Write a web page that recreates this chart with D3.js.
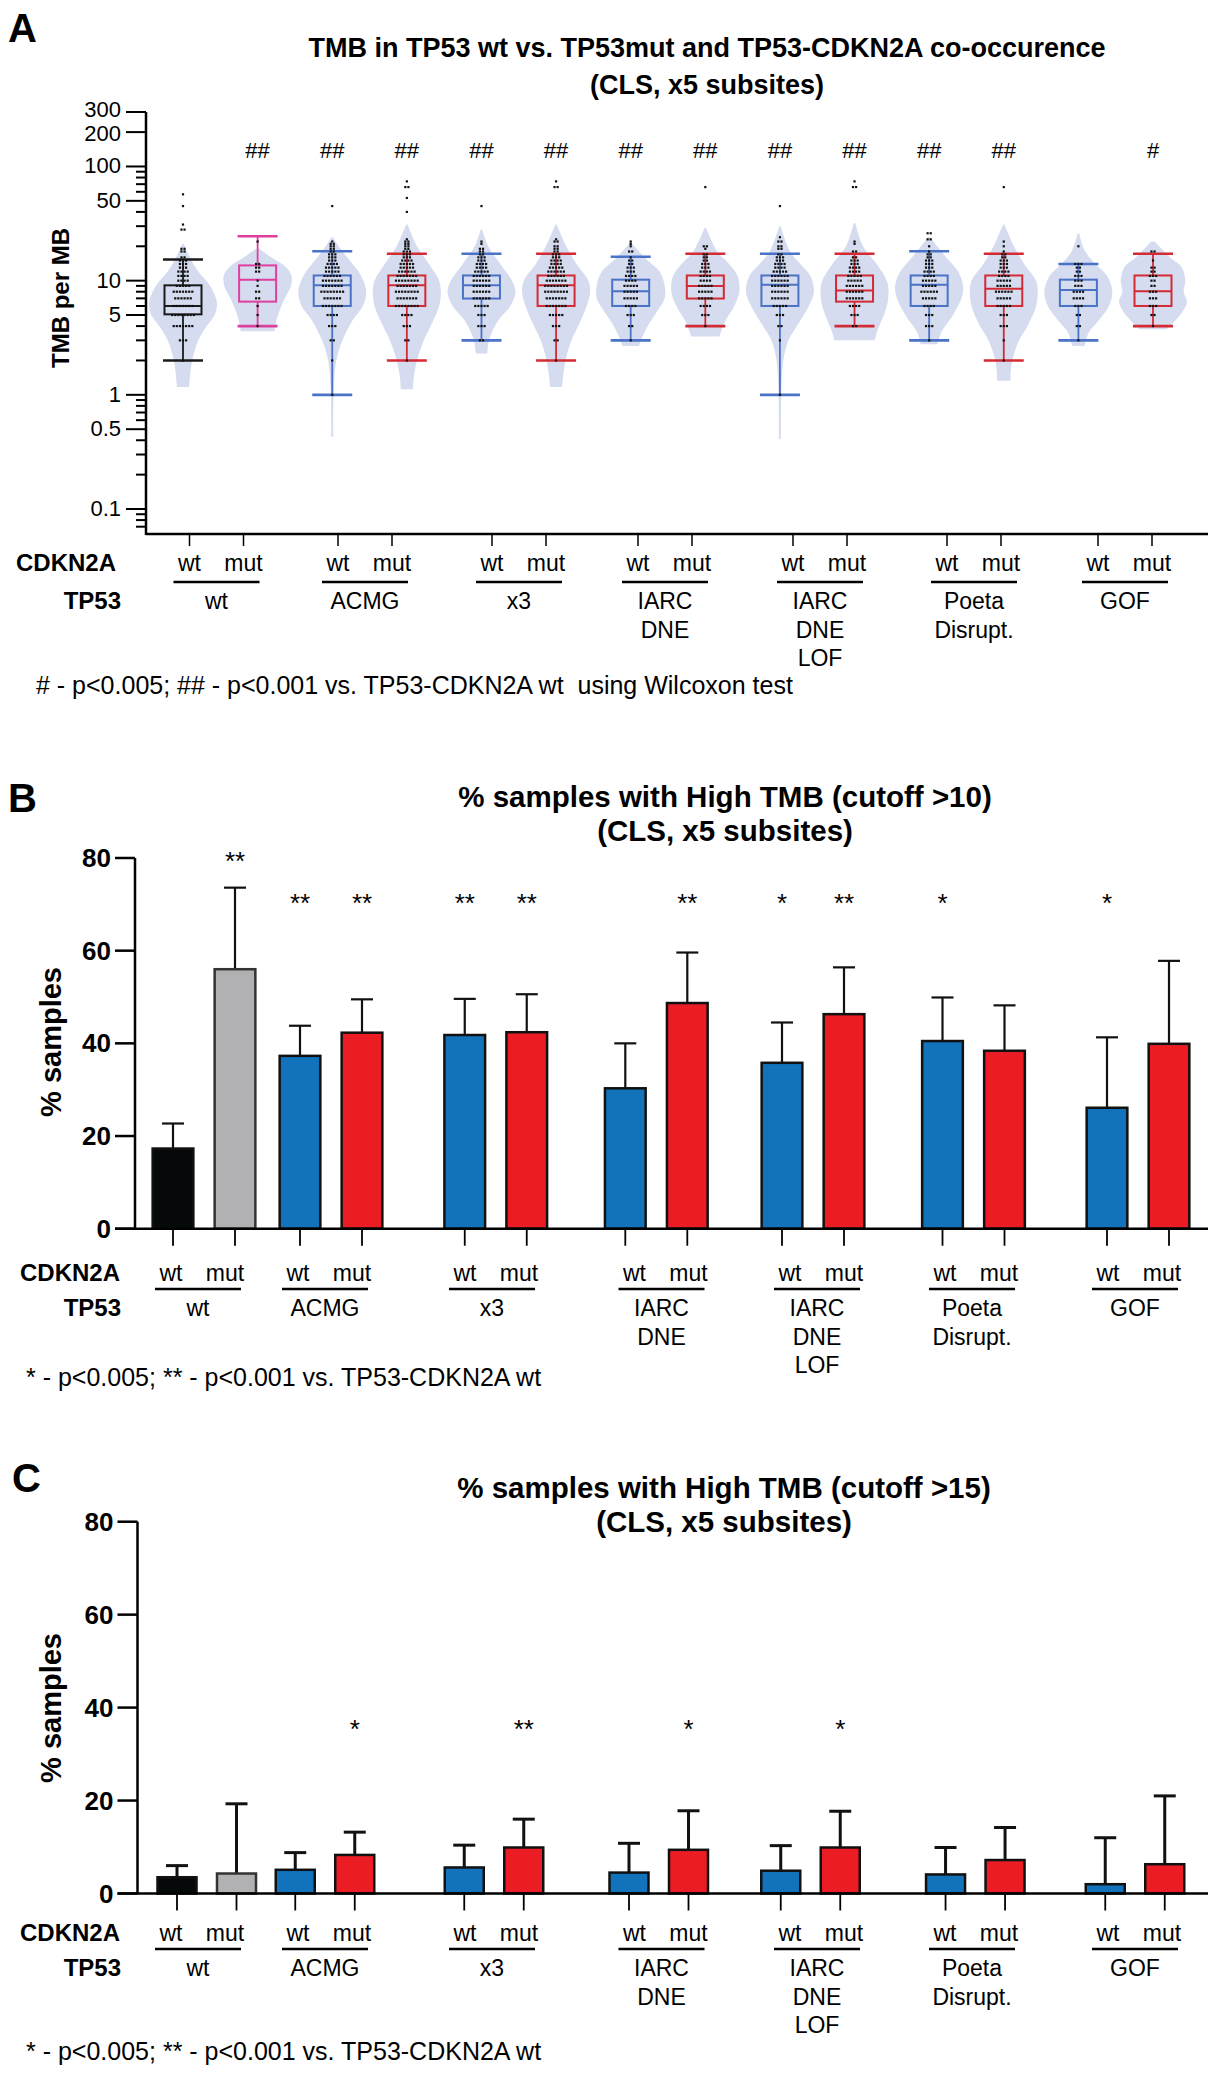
<!DOCTYPE html>
<html><head><meta charset="utf-8">
<script src="https://cdn.jsdelivr.net/npm/d3@7"></script>
<style>
body{margin:0;background:#fff}
svg{display:block}
text{font-family:"Liberation Sans",Arial,Helvetica,sans-serif;fill:#000;white-space:pre}
</style></head>
<body><svg id="chart"></svg>
<script>
// ================= DATA =================
const cdkn2aLabels = ["wt", "mut"];
const tp53Labels = [["wt"], ["ACMG"], ["x3"], ["IARC", "DNE"], ["IARC", "DNE", "LOF"], ["Poeta", "Disrupt."], ["GOF"]];

// Panel A: TMB per MB (log axis)
const tmbMajorTicks = [0.1, 0.5, 1, 5, 10, 50, 100, 200, 300];
const tmbMinorTicks = [0.07, 0.08, 0.09, 0.2, 0.3, 0.4, 0.6, 0.7, 0.8, 0.9, 2, 3, 4, 6, 7, 8, 9, 20, 30, 40, 60, 70, 80, 90];
const whiskerLow  = [2, 4, 1, 2, 3, 2, 3, 4, 1, 4, 3, 2, 3, 4];
const q1          = [5.07, 6.55, 6, 6, 6.97, 6, 6, 6.97, 6, 6.55, 6, 6, 6, 6];
const median      = [6, 10.2, 9.1, 9.1, 9.1, 9.1, 8.07, 8.97, 9.2, 8.2, 9.2, 8.5, 8.3, 8.07];
const q3          = [9.1, 13.6, 11.1, 11.1, 11.1, 11.1, 10.2, 11.1, 11.1, 11.1, 11.1, 11.1, 10.2, 11.1];
const whiskerHigh = [15.3, 24.5, 18.1, 17.2, 17.2, 17.2, 16.2, 17.2, 17.2, 17.2, 18.1, 17.2, 14, 17.2];
const sigA = ["", "##", "##", "##", "##", "##", "##", "##", "##", "##", "##", "##", "", "#"];
// violin outlines: [TMB value, relative half-width]
const violins = [
  [[21,0.02],[15,0.25],[12,0.45],[9,0.8],[7,0.97],[6,1],[5,0.93],[4,0.7],[3,0.45],[2,0.27],[1.4,0.2],[1.17,0.18]],
  [[19,0.05],[16,0.4],[13,0.85],[11,1],[9,0.98],[7,0.8],[5,0.6],[4,0.52],[3.6,0.5]],
  [[24,0.02],[18,0.3],[14,0.6],[11,0.85],[8,1],[6,0.9],[4.5,0.6],[3,0.3],[2,0.12],[1,0.04],[0.43,0.03]],
  [[31,0.02],[20,0.3],[14,0.65],[10,0.95],[8,1],[6,0.95],[4,0.7],[3,0.5],[2,0.3],[1.4,0.2],[1.12,0.18]],
  [[28,0.02],[20,0.2],[14,0.55],[10,0.9],[8,1],[6,0.85],[4.5,0.5],[3.2,0.25],[2.5,0.18],[2.3,0.17]],
  [[31,0.02],[20,0.3],[14,0.6],[10,0.95],[8,1],[6,0.9],[4,0.65],[3,0.45],[2,0.28],[1.4,0.2],[1.17,0.18]],
  [[21,0.04],[15,0.5],[12,0.85],[9,1],[7,1],[5.5,0.8],[4,0.5],[3,0.3],[2.68,0.25]],
  [[29,0.02],[18,0.35],[14,0.7],[11,0.95],[8,1],[6,0.85],[4.5,0.6],[3.5,0.45],[3.24,0.42]],
  [[30,0.02],[18,0.3],[14,0.6],[11,0.9],[8,1],[6,0.85],[4,0.5],[3,0.25],[2,0.1],[1,0.04],[0.41,0.03]],
  [[32,0.02],[20,0.25],[14,0.65],[10,0.95],[8,1],[6,0.95],[4.5,0.8],[3.5,0.65],[3,0.6]],
  [[24,0.03],[16,0.5],[12,0.85],[9,1],[7,0.95],[5,0.7],[3.5,0.35],[2.77,0.25]],
  [[31,0.02],[20,0.3],[14,0.6],[10,0.95],[8,1],[6,0.95],[4,0.7],[3,0.45],[2,0.25],[1.5,0.2],[1.33,0.2]],
  [[26,0.02],[18,0.2],[14,0.5],[11,0.85],[8,1],[6,0.9],[4.5,0.6],[3.5,0.3],[2.8,0.2],[2.68,0.18]],
  [[22,0.05],[16,0.5],[13,0.85],[10,0.95],[8,0.9],[6.5,1],[5,0.8],[4,0.5],[3.75,0.4]]
];
// individual samples: [TMB value, number of samples]
const samples = [
  [[2,1],[3,3],[4,7],[5,8],[6,7],[7,6],[8,7],[9,5],[10,4],[11,4],[12,4],[13,3],[14,3],[15,3],[16,2],[18,2],[19,2],[28,2],[31,1],[45,1],[57,1]],
  [[4,1],[5,1],[6,1],[7,2],[8,2],[9,1],[10,1],[12,2],[13,2],[14,2],[22,1]],
  [[1,1],[2,1],[3,2],[4,3],[5,4],[6,7],[7,6],[8,8],[9,7],[10,7],[11,6],[12,5],[13,5],[14,4],[15,3],[16,3],[17,3],[18,2],[19,2],[20,2],[21,2],[22,1],[45,1]],
  [[2,1],[3,2],[4,3],[5,4],[6,8],[7,7],[8,8],[9,7],[10,8],[11,7],[12,6],[13,5],[14,5],[15,4],[16,3],[17,3],[18,3],[19,2],[20,2],[21,2],[22,2],[23,1],[40,1],[53,1],[66,2],[74,1]],
  [[3,2],[4,3],[5,3],[6,5],[7,6],[8,6],[9,6],[10,6],[11,6],[12,5],[13,4],[14,4],[15,3],[16,3],[17,2],[18,2],[19,2],[21,1],[22,1],[45,1]],
  [[2,1],[3,2],[4,3],[5,5],[6,7],[7,7],[8,8],[9,8],[10,7],[11,6],[12,6],[13,5],[14,4],[15,4],[16,3],[17,3],[18,2],[19,2],[20,2],[22,2],[23,1],[66,2],[74,1]],
  [[3,1],[4,2],[5,3],[6,4],[7,5],[8,5],[9,5],[10,4],[11,4],[12,3],[13,3],[14,2],[15,2],[16,1],[18,2],[20,1],[21,1],[22,1]],
  [[4,1],[5,3],[6,4],[7,5],[8,5],[9,5],[10,4],[11,4],[12,4],[13,3],[14,3],[15,2],[16,2],[17,2],[19,1],[20,2],[66,1]],
  [[1,1],[3,1],[4,2],[5,3],[6,5],[7,6],[8,6],[9,6],[10,6],[11,6],[12,5],[13,4],[14,4],[15,3],[16,3],[17,2],[19,2],[20,2],[22,2],[24,1],[45,1]],
  [[4,2],[5,3],[6,4],[7,6],[8,6],[9,6],[10,5],[11,5],[12,4],[13,4],[14,3],[15,3],[16,2],[18,2],[21,1],[22,1],[66,2],[74,1]],
  [[3,1],[4,3],[5,3],[6,4],[7,5],[8,6],[9,5],[10,5],[11,4],[12,4],[13,3],[14,3],[15,3],[16,2],[17,2],[18,1],[20,1],[23,2],[26,2]],
  [[2,1],[3,1],[4,3],[5,3],[6,5],[7,5],[8,6],[9,5],[10,5],[11,4],[12,4],[13,3],[14,3],[15,3],[16,2],[17,2],[18,1],[20,1],[22,1],[66,1]],
  [[3,1],[4,2],[5,2],[6,3],[7,4],[8,4],[9,3],[10,3],[11,3],[12,2],[13,2],[14,3],[20,1]],
  [[4,1],[5,2],[6,3],[7,3],[8,3],[9,2],[10,2],[11,3],[12,2],[13,2],[15,1],[18,2]]
];

// Panel B: % samples with TMB > 10
const pctTicks = [0, 20, 40, 60, 80];
const high10     = [17.3, 56.0, 37.3, 42.3, 41.8, 42.4, 30.3, 48.7, 35.8, 46.3, 40.5, 38.4, 26.1, 39.9];
const high10Upper= [22.7, 73.6, 43.8, 49.5, 49.6, 50.6, 40.0, 59.6, 44.5, 56.4, 49.9, 48.2, 41.3, 57.8];
const sigB = ["", "**", "**", "**", "**", "**", "", "**", "*", "**", "*", "", "*", ""];
// Panel C: % samples with TMB > 15
const high15     = [3.5, 4.3, 5.1, 8.3, 5.6, 9.9, 4.5, 9.4, 4.9, 9.9, 4.1, 7.2, 2.0, 6.3];
const high15Upper= [6.0, 19.3, 8.8, 13.2, 10.4, 16.0, 10.8, 17.8, 10.3, 17.7, 9.9, 14.2, 12.0, 21.0];
const sigC = ["", "", "", "*", "", "**", "", "*", "", "*", "", "", "", ""];

const titleA = ["TMB in TP53 wt vs. TP53mut and TP53-CDKN2A co-occurence", "(CLS, x5 subsites)"];
const titleB = ["% samples with High TMB (cutoff >10)", "(CLS, x5 subsites)"];
const titleC = ["% samples with High TMB (cutoff >15)", "(CLS, x5 subsites)"];
const footA = "# - p<0.005; ## - p<0.001 vs. TP53-CDKN2A wt  using Wilcoxon test";
const footBC = "* - p<0.005; ** - p<0.001 vs. TP53-CDKN2A wt";

// ================= DRAW =================
const svg = d3.select("#chart").attr("width", 1210).attr("height", 2077);
const nG = whiskerLow.length;
const isMut = i => i % 2 === 1;

function txt(g, x, y, s, size, opts = {}) {
  return g.append("text").attr("x", x).attr("y", y).text(s)
    .attr("font-size", size).attr("font-weight", opts.bold ? "bold" : "normal")
    .attr("text-anchor", opts.anchor || "start");
}

// panel letters
txt(svg, 8, 42, "A", 40, {bold: true});
txt(svg, 8, 812, "B", 40, {bold: true});
txt(svg, 12, 1492, "C", 40, {bold: true});

// ---------- Panel A ----------
const gA = svg.append("g");
titleA.forEach((t, i) => txt(gA, 707, 57 + i * 37, t, 27, {bold: true, anchor: "middle"}));

const yA = d3.scaleLog().domain([0.0604, 300]).range([534, 112]);
const xA = d3.scaleLinear().domain([0, nG - 1]).range([183, 1153]);
const axA = 146;

// violins
const violinW = 34;
violins.forEach((prof, i) => {
  const cx = xA(i);
  const area = d3.area().curve(d3.curveCatmullRom.alpha(0.5))
    .y(d => yA(d[0])).x0(d => cx - d[1] * violinW).x1(d => cx + d[1] * violinW);
  gA.append("path").attr("d", area(prof)).attr("fill", "#d5dcef");
});

// boxes
const boxColor = i => i === 0 ? "#1a1a1a" : i === 1 ? "#de3f9f" : isMut(i) ? "#d42a34" : "#4a72c6";
const boxW = 37;
for (let i = 0; i < nG; i++) {
  const cx = xA(i), c = boxColor(i);
  const g = gA.append("g").attr("stroke", c).attr("fill", "none");
  g.append("line").attr("x1", cx).attr("x2", cx).attr("y1", yA(whiskerLow[i])).attr("y2", yA(q1[i])).attr("stroke-width", 1.8);
  g.append("line").attr("x1", cx).attr("x2", cx).attr("y1", yA(q3[i])).attr("y2", yA(whiskerHigh[i])).attr("stroke-width", 1.8);
  [whiskerLow[i], whiskerHigh[i]].forEach(v =>
    g.append("line").attr("x1", cx - 20).attr("x2", cx + 20).attr("y1", yA(v)).attr("y2", yA(v)).attr("stroke-width", 2.6));
  g.append("rect").attr("x", cx - boxW / 2).attr("width", boxW)
    .attr("y", yA(q3[i])).attr("height", yA(q1[i]) - yA(q3[i])).attr("stroke-width", 2);
  g.append("line").attr("x1", cx - boxW / 2).attr("x2", cx + boxW / 2).attr("y1", yA(median[i])).attr("y2", yA(median[i])).attr("stroke-width", 2);
}
// sample dots
samples.forEach((rows, i) => {
  const cx = xA(i);
  rows.forEach(([v, n]) => {
    for (let k = 0; k < n; k++) {
      const dx = (k - (n - 1) / 2) * 3.1;
      gA.append("rect").attr("x", cx + dx - 1.1).attr("y", yA(v) - 1.1)
        .attr("width", 2.2).attr("height", 2.2).attr("fill", "#111");
    }
  });
});
// significance
sigA.forEach((s, i) => { if (s) txt(gA, xA(i), 158, s, 22, {anchor: "middle"}); });

// y axis A
gA.append("line").attr("x1", axA).attr("x2", axA).attr("y1", yA(300)).attr("y2", 535).attr("stroke", "#000").attr("stroke-width", 2.5);
tmbMajorTicks.forEach(v => {
  gA.append("line").attr("x1", axA - 20).attr("x2", axA).attr("y1", yA(v)).attr("y2", yA(v)).attr("stroke", "#000").attr("stroke-width", 2);
  const nudge = v === 300 ? -2 : v === 200 ? 2 : 0;
  txt(gA, axA - 25, yA(v) + 7 + nudge, d3.format("~g")(v), 22, {anchor: "end"});
});
tmbMinorTicks.forEach(v => {
  gA.append("line").attr("x1", axA - 10).attr("x2", axA).attr("y1", yA(v)).attr("y2", yA(v)).attr("stroke", "#000").attr("stroke-width", 2);
});
gA.append("text").attr("transform", `translate(69,298) rotate(-90)`).attr("text-anchor", "middle")
  .attr("font-size", 24).attr("font-weight", "bold").text("TMB per MB");
// x axis A
gA.append("line").attr("x1", axA).attr("x2", 1208).attr("y1", 534).attr("y2", 534).attr("stroke", "#000").attr("stroke-width", 2.5);

// ---------- category label tables ----------
function labelTable(g, pairScale, cfg) {
  txt(g, cfg.cdX, cfg.cdY, "CDKN2A", 24, {bold: true});
  txt(g, 121, cfg.tpY, "TP53", 24, {bold: true, anchor: "end"});
  tp53Labels.forEach((lines, p) => {
    const c = pairScale(p);
    cdkn2aLabels.forEach((s, j) => {
      const x = c + (j === 0 ? -27 : 27);
      txt(g, x, cfg.cdY, s, 23, {anchor: "middle"});
      if (cfg.ticks) g.append("line").attr("x1", x).attr("x2", x).attr("y1", cfg.axisY).attr("y2", cfg.axisY + 12)
        .attr("stroke", "#000").attr("stroke-width", 1.5);
    });
    g.append("line").attr("x1", c - 43).attr("x2", c + 43).attr("y1", cfg.ulY).attr("y2", cfg.ulY).attr("stroke", "#000").attr("stroke-width", 2.5);
    lines.forEach((s, k) => txt(g, c, cfg.tpY + k * 28.5, s, 23, {anchor: "middle"}));
  });
  txt(g, cfg.footX, cfg.footY, cfg.foot, 25);
}
const labelPairsA = d3.scaleLinear().domain(d3.range(7)).range([216.5, 365, 519, 665, 820, 974, 1125]);
labelTable(gA, labelPairsA, {cdX: 16, cdY: 571, ulY: 582, tpY: 609, footX: 36, footY: 694, foot: footA, ticks: true, axisY: 534});

// ---------- Bar panels ----------
function barPanel(cfg) {
  const g = svg.append("g");
  cfg.title.forEach((t, i) => txt(g, cfg.titleX, cfg.titleY + i * 34, t, 29.5, {bold: true, anchor: "middle"}));
  const y = d3.scaleLinear().domain([0, 80]).range([cfg.y0, cfg.y80]);
  const pair = d3.scaleLinear().domain(d3.range(7)).range(cfg.pairs);
  const bx = i => pair(Math.floor(i / 2)) + (isMut(i) ? cfg.half : -cfg.half);
  const fill = i => i === 0 ? "#060909" : i === 1 ? "#b1b1b3" : isMut(i) ? "#ec1c24" : "#1273bb";
  // error bars
  cfg.upper.forEach((u, i) => {
    g.append("line").attr("x1", bx(i)).attr("x2", bx(i)).attr("y1", y(cfg.values[i])).attr("y2", y(u)).attr("stroke", "#111").attr("stroke-width", cfg.errW);
    g.append("line").attr("x1", bx(i) - 11).attr("x2", bx(i) + 11).attr("y1", y(u)).attr("y2", y(u)).attr("stroke", "#111").attr("stroke-width", cfg.errW);
  });
  cfg.values.forEach((v, i) => {
    g.append("rect").attr("x", bx(i) - cfg.bw / 2).attr("width", cfg.bw).attr("y", y(v)).attr("height", y(0) - y(v))
      .attr("fill", fill(i)).attr("stroke", i === 1 ? "#333" : "#111").attr("stroke-width", 2.5);
    g.append("line").attr("x1", bx(i)).attr("x2", bx(i)).attr("y1", y(0)).attr("y2", y(0) + 17).attr("stroke", "#000").attr("stroke-width", 1.8);
  });
  cfg.sig.forEach((s, i) => { if (s) txt(g, bx(i), i === 1 ? cfg.sigY1 : cfg.sigY, s, 26, {anchor: "middle"}); });
  // axes
  const ax = cfg.axX;
  g.append("line").attr("x1", ax).attr("x2", ax).attr("y1", y(80)).attr("y2", y(0)).attr("stroke", "#000").attr("stroke-width", 2.5);
  g.append("line").attr("x1", ax - 20).attr("x2", 1208).attr("y1", y(0)).attr("y2", y(0)).attr("stroke", "#000").attr("stroke-width", 2.5);
  pctTicks.forEach(t => {
    g.append("line").attr("x1", ax - 20).attr("x2", ax).attr("y1", y(t)).attr("y2", y(t)).attr("stroke", "#000").attr("stroke-width", 2.5);
    txt(g, ax - 24, y(t) + 9, t, 26, {bold: true, anchor: "end"});
  });
  g.append("text").attr("transform", `translate(61,${cfg.ylabY}) rotate(-90)`).attr("text-anchor", "middle")
    .attr("font-size", 29).attr("font-weight", "bold").text("% samples");
  const lp = d3.scaleLinear().domain(d3.range(7)).range(cfg.labelPairs);
  labelTable(g, lp, {cdX: 20, cdY: cfg.cdY, ulY: cfg.cdY + 8, tpY: cfg.cdY + 35, footX: 26, footY: cfg.footY, foot: footBC, ticks: false});
}

barPanel({title: titleB, titleX: 725, titleY: 807, y0: 1228.7, y80: 858, axX: 135,
  pairs: [204, 331, 495.75, 656.3, 813, 973.5, 1138], half: 31, bw: 40.7, errW: 2.2,
  values: high10, upper: high10Upper, sig: sigB, sigY: 912, sigY1: 870, ylabY: 1042,
  labelPairs: [198, 325, 492, 661.5, 817, 972, 1135], cdY: 1281, footY: 1386});

barPanel({title: titleC, titleX: 724, titleY: 1498, y0: 1893.5, y80: 1521.7, axX: 137.5,
  pairs: [206.75, 325, 494, 658.75, 810.5, 975.3, 1135], half: 29.75, bw: 39, errW: 3,
  values: high15, upper: high15Upper, sig: sigC, sigY: 1738, sigY1: 1738, ylabY: 1708,
  labelPairs: [198, 325, 492, 661.5, 817, 972, 1135], cdY: 1941, footY: 2060});
</script>
</body></html>
